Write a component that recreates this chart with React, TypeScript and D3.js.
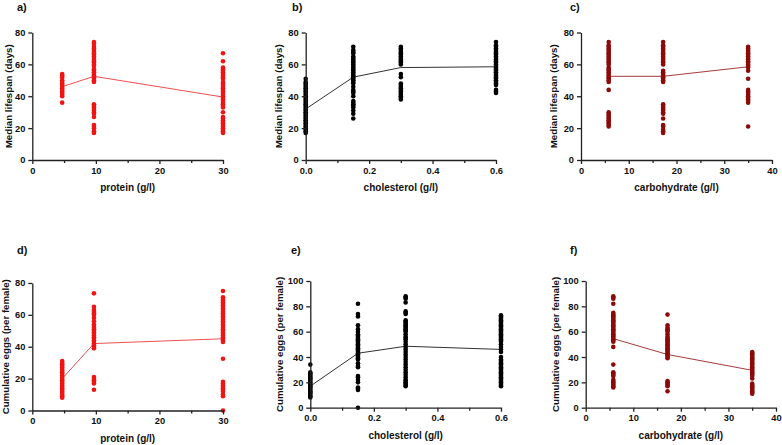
import React, { useEffect, useRef } from 'react';
import * as d3 from 'd3';

const W = 782;
const H = 445;

// diet levels (g/l)
const protein = [4.7, 9.7, 30];
const cholesterol = [0, 0.15, 0.3, 0.6];
const carbohydrate = [5.8, 17.2, 35];

// median lifespan (days), one list per diet level
const lifespanProtein = [
  [54, 53, 52, 50, 49, 48, 47, 46, 45, 44, 43, 42, 41, 40, 36],
  [74, 73, 71, 70, 69, 68, 67, 66, 65, 64, 63, 62, 61, 60, 59, 57, 56, 55, 54, 53, 52, 51, 50, 49,
    35, 34, 33, 32, 31, 30, 29, 27, 22, 21, 20, 18, 17],
  [67, 62, 58, 57, 56, 55, 54, 53, 52, 51, 49, 48, 47, 46, 45, 44, 43, 42, 41, 40, 39, 38, 37, 36,
    35, 34, 33, 30, 27, 26, 25, 24, 23, 22, 21, 20, 19, 18, 17],
];
const lifespanCholesterol = [
  [51, 49, 48, 47, 46, 45, 44, 43, 42, 41, 40, 39, 38, 37, 36, 35, 34, 33, 32, 31, 30, 29, 28, 27,
    26, 25, 24, 23, 22, 21, 20, 19, 18, 17],
  [71, 69, 68, 67, 65, 64, 63, 62, 61, 60, 59, 58, 57, 56, 55, 54, 53, 52, 51, 50, 49, 48, 46, 44,
    43, 42, 40, 37, 36, 35, 34, 33, 31, 29, 26],
  [71, 70, 69, 68, 67, 66, 65, 64, 63, 62, 61, 60, 54, 52, 48, 47, 46, 45, 44, 43, 42, 41, 40, 39, 38],
  [74, 72, 71, 70, 69, 68, 67, 66, 65, 64, 63, 62, 61, 60, 59, 58, 57, 56, 55, 54, 53, 52, 51, 50,
    49, 48, 47, 44, 43, 42],
];
const lifespanCarbohydrate = [
  [74, 72, 71, 70, 69, 68, 67, 66, 65, 64, 63, 62, 61, 60, 58, 57, 56, 55, 54, 53, 52, 51, 50, 49,
    44, 30, 29, 28, 27, 26, 25, 24, 23, 22, 21],
  [74, 72, 71, 70, 69, 68, 67, 66, 65, 64, 63, 62, 61, 60, 56, 55, 54, 53, 52, 51, 50, 49,
    35, 34, 33, 32, 31, 30, 29, 26, 22, 21, 19, 18, 17],
  [71, 70, 69, 68, 67, 66, 65, 64, 63, 62, 61, 60, 59, 58, 56, 51, 44, 43, 42, 41, 40, 39, 38, 37, 36, 21],
];

// cumulative eggs (per female)
const eggsProtein = [
  [31, 30, 29, 28, 27, 26, 25, 24, 23, 22, 21, 20, 19, 18, 17, 16, 15, 14, 13, 12, 11, 10, 9, 8],
  [73.5, 65, 63, 62, 61, 60, 58, 56, 54, 53, 52, 51, 50, 49, 48, 47, 46, 45, 44, 43, 42, 41, 40, 39,
    21, 20, 19, 18, 17, 13],
  [75, 71, 70, 69, 68, 67, 66, 65, 64, 63, 62, 61, 60, 59, 58, 57, 56, 55, 54, 53, 52, 51, 50, 49,
    48, 47, 46, 45, 44, 43, 32.5, 18, 17, 16, 15, 14, 13, 12, 10, 9, 0],
];
const eggsCholesterol = [
  [34, 28, 27, 26, 25, 24, 23, 22, 21, 20, 19, 18, 17, 16, 15, 14, 13, 12, 11, 10, 9, 8],
  [82, 74, 72, 65, 62, 60, 58, 57, 56, 55, 54, 53, 52, 51, 50, 49, 48, 47, 46, 45, 44, 43, 42, 41,
    40, 39, 38, 35, 33, 32, 25, 24, 22, 20, 16, 15, 14, 0],
  [88, 87, 86, 83, 76, 75, 74, 69, 68, 67, 66, 65, 64, 63, 62, 61, 60, 58, 56, 55, 54, 52, 50, 48,
    46, 44, 42, 40, 38, 36, 34, 32, 30, 28, 26, 24, 22, 21, 20, 19, 18, 17],
  [73, 72, 71, 70, 69, 68, 67, 66, 65, 64, 63, 62, 61, 60, 59, 58, 57, 56, 55, 54, 53, 52, 50, 48,
    46, 44, 40, 38, 37, 36, 35, 34, 33, 32, 31, 30, 29, 28, 27, 26, 25, 24, 23, 22, 21, 20, 19, 18, 17],
];
const eggsCarbohydrate = [
  [88, 87, 86, 82, 75, 74, 73, 72, 71, 70, 69, 68, 67, 66, 65, 64, 63, 62, 61, 60, 59, 58, 57, 56,
    55, 54, 53, 52, 48, 34, 28, 27, 26, 25, 22, 21, 20, 19, 18, 17, 16],
  [73.5, 65, 63, 62, 61, 60, 58, 56, 55, 54, 53, 52, 51, 50, 49, 48, 47, 46, 45, 44, 43, 42, 41, 40,
    39, 21, 20, 19, 18, 17, 13],
  [44, 43, 42, 41, 40, 39, 38, 37, 36, 35, 34, 33, 32, 31, 30, 29, 28, 27, 26, 25, 23, 19, 18, 17,
    16, 15, 14, 13, 12, 11],
];

// fitted means drawn as the connecting line
const meanLifespanProtein = [46, 52.5, 39.5];
const meanLifespanCholesterol = [32, 52, 58, 58.5];
const meanLifespanCarbohydrate = [52.5, 52.5, 58.5];
const meanEggsProtein = [20, 42, 45];
const meanEggsCholesterol = [17, 43, 48.5, 46];
const meanEggsCarbohydrate = [54.5, 42, 29.5];

// tick values
const proteinTicks = [0, 10, 20, 30];
const proteinMinor = [5, 15, 25];
const cholTicks = [0, 0.2, 0.4, 0.6];
const cholMinor = [0.1, 0.3, 0.5];
const carbTicks = [0, 10, 20, 30, 40];
const carbMinor = [5, 15, 25, 35];
const lifespanTicks = [0, 20, 40, 60, 80];
const eggTicks = [0, 20, 40, 60, 80, 100];

const RED = '#f01414';
const BLACK = '#000000';
const DARK = '#8c0a0a';

const panels = [
  { tag: 'a)', tagX: 17, tagY: 11, left: 32.3, right: 223, top: 32.5, bottom: 160, ylabOff: 24,
    xs: protein, groups: lifespanProtein, means: meanLifespanProtein, xMax: 30, yMax: 80,
    xTicks: proteinTicks, xMinor: proteinMinor, yTicks: lifespanTicks, xFmt: d3.format('d'),
    xLabel: 'protein (g/l)', yLabel: 'Median lifespan (days)', dot: RED, line: '#f05050' },
  { tag: 'b)', tagX: 292, tagY: 11, left: 305.7, right: 496, top: 32.5, bottom: 160, ylabOff: 27,
    xs: cholesterol, groups: lifespanCholesterol, means: meanLifespanCholesterol, xMax: 0.6, yMax: 80,
    xTicks: cholTicks, xMinor: cholMinor, yTicks: lifespanTicks, xFmt: d3.format('.1f'),
    xLabel: 'cholesterol (g/l)', yLabel: 'Median lifespan (days)', dot: BLACK, line: '#333' },
  { tag: 'c)', tagX: 570, tagY: 11, left: 581, right: 772, top: 32.5, bottom: 160, ylabOff: 27,
    xs: carbohydrate, groups: lifespanCarbohydrate, means: meanLifespanCarbohydrate, xMax: 40, yMax: 80,
    xTicks: carbTicks, xMinor: carbMinor, yTicks: lifespanTicks, xFmt: d3.format('d'),
    xLabel: 'carbohydrate (g/l)', yLabel: 'Median lifespan (days)', dot: DARK, line: '#a83a3a' },
  { tag: 'd)', tagX: 17, tagY: 254, left: 32.3, right: 223, top: 283, bottom: 410.5, ylabOff: 27,
    xs: protein, groups: eggsProtein, means: meanEggsProtein, xMax: 30, yMax: 80,
    xTicks: proteinTicks, xMinor: proteinMinor, yTicks: lifespanTicks, xFmt: d3.format('d'),
    xLabel: 'protein (g/l)', yLabel: 'Cumulative eggs (per female)', dot: RED, line: '#f05050' },
  { tag: 'e)', tagX: 291, tagY: 254, left: 310.3, right: 501, top: 281, bottom: 407.7, ylabOff: 31,
    xs: cholesterol, groups: eggsCholesterol, means: meanEggsCholesterol, xMax: 0.6, yMax: 100,
    xTicks: cholTicks, xMinor: cholMinor, yTicks: eggTicks, xFmt: d3.format('.1f'),
    xLabel: 'cholesterol (g/l)', yLabel: 'Cumulative eggs (per female)', dot: BLACK, line: '#333' },
  { tag: 'f)', tagX: 570, tagY: 254, left: 585.7, right: 776, top: 281, bottom: 407.7, ylabOff: 30,
    xs: carbohydrate, groups: eggsCarbohydrate, means: meanEggsCarbohydrate, xMax: 40, yMax: 100,
    xTicks: carbTicks, xMinor: carbMinor, yTicks: eggTicks, xFmt: d3.format('d'),
    xLabel: 'carbohydrate (g/l)', yLabel: 'Cumulative eggs (per female)', dot: DARK, line: '#a83a3a' },
];

const FONT = '"Liberation Sans", Arial, sans-serif';

export default function App() {
  const ref = useRef<SVGSVGElement>(null);

  useEffect(() => {
    document.body.style.margin = '0';
    const svg = d3.select(ref.current);
    svg.selectAll('*').remove();

    panels.forEach(p => {
      const x = d3.scaleLinear().domain([0, p.xMax]).range([p.left, p.right]);
      const y = d3.scaleLinear().domain([0, p.yMax]).range([p.bottom, p.top]);
      const g = svg.append('g');

      // mean line first, dots on top
      const line = d3.line<number>()
        .x((_, i) => x(p.xs[i]))
        .y(d => y(d));
      g.append('path')
        .attr('d', line(p.means))
        .attr('fill', 'none')
        .attr('stroke', p.line)
        .attr('stroke-width', 1);

      p.groups.forEach((vals, i) => {
        g.selectAll(null)
          .data(vals)
          .enter()
          .append('circle')
          .attr('cx', x(p.xs[i]))
          .attr('cy', d => y(d))
          .attr('r', 2.3)
          .attr('fill', p.dot);
      });

      // x axis + minor ticks
      g.append('g')
        .attr('transform', `translate(0,${p.bottom})`)
        .call(d3.axisBottom(x).tickValues(p.xMinor).tickSize(3).tickSizeOuter(0).tickFormat(() => ''))
        .call(a => a.select('.domain').remove());
      g.append('g')
        .attr('transform', `translate(0,${p.bottom})`)
        .call(d3.axisBottom(x).tickValues(p.xTicks).tickSize(4).tickSizeOuter(0).tickFormat(p.xFmt as any));

      // y axis
      g.append('g')
        .attr('transform', `translate(${p.left},0)`)
        .call(d3.axisLeft(y).tickValues(p.yTicks).tickSize(4).tickSizeOuter(0).tickFormat(d3.format('d')));

      g.selectAll('.domain, .tick line')
        .attr('stroke', '#222')
        .attr('stroke-width', 1.3);
      g.selectAll('.tick text')
        .attr('font-family', FONT)
        .attr('font-weight', 'bold')
        .attr('font-size', 9.3)
        .attr('fill', '#111');

      // axis titles
      g.append('text')
        .attr('x', (p.left + p.right) / 2)
        .attr('y', p.bottom + 31)
        .attr('text-anchor', 'middle')
        .attr('font-family', FONT)
        .attr('font-weight', 'bold')
        .attr('font-size', 10)
        .attr('fill', '#111')
        .text(p.xLabel);

      g.append('text')
        .attr('transform', `translate(${p.left - p.ylabOff},${(p.top + p.bottom) / 2}) rotate(-90)`)
        .attr('dy', '0.35em')
        .attr('text-anchor', 'middle')
        .attr('font-family', FONT)
        .attr('font-weight', 'bold')
        .attr('font-size', 9.7)
        .attr('fill', '#111')
        .text(p.yLabel);

      // panel letter
      g.append('text')
        .attr('x', p.tagX)
        .attr('y', p.tagY)
        .attr('font-family', FONT)
        .attr('font-weight', 'bold')
        .attr('font-size', 11)
        .attr('fill', '#111')
        .text(p.tag);
    });
  }, []);

  return <svg ref={ref} width={W} height={H} style={{ display: 'block', background: '#fff' }} />;
}
